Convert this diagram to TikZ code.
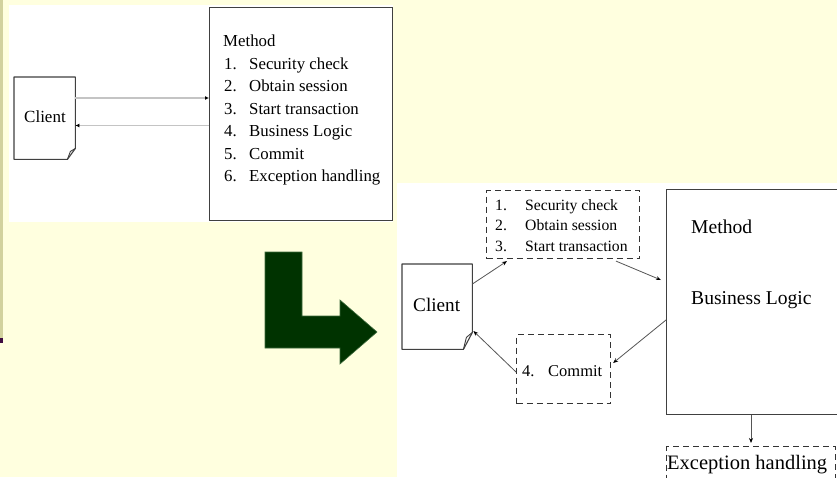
\documentclass[tikz,border=0pt]{standalone}
\usepackage{fontspec}
\setmainfont{Liberation Serif}
\usetikzlibrary{calc,arrows.meta}
\definecolor{slidebg}{HTML}{FFFFDF}
\definecolor{edgestrip}{HTML}{D2D29E}
\definecolor{edgemark}{HTML}{3E0C40}
\definecolor{bigarrow}{HTML}{003300}
\definecolor{bigarrowedge}{HTML}{3D6B3D}
\definecolor{boxline}{HTML}{404040}
\definecolor{lightwire}{HTML}{C4C4C4}
\definecolor{darkwire}{HTML}{555555}
\tikzset{
  panel/.style={fill=white, draw=none},
  boxframe/.style={draw=boxline, line width=1.1pt, inner sep=0pt, anchor=north west},
  dashframe/.style={draw=black!80, line width=1.1pt, dash pattern=on 6pt off 4pt, inner sep=0pt, anchor=north west},
  holder/.style={draw=none, inner sep=0pt, anchor=north west},
  doc/.style={draw=boxline, line width=1.1pt, line join=round, fill=white},
  txt/.style={inner sep=0pt, anchor=base west, text=black},
  toparrow/.style={draw=lightwire, line width=1.6pt, -{Latex[length=4pt,width=4pt,black]}},
  flow/.style={draw=darkwire, line width=0.8pt, -{Stealth[length=5pt,width=4pt,black]}},
}
\begin{document}
\begin{tikzpicture}[x=1pt,y=-1pt]
  % page and panels
  \fill[slidebg] (0,0) rectangle (837,477);
  \useasboundingbox (0,0) rectangle (837,477);
  \clip (0,0) rectangle (837,477);
  \fill[edgestrip] (0,0) rectangle (2.5,338);
  \fill[edgemark] (0,338) rectangle (2.5,343);
  \fill[panel] (9,5) rectangle (393,222);
  \fill[panel] (397,183) rectangle (837,477);

  % ---------- before: everything inside one method ----------
  \node[holder, minimum width=61pt, minimum height=82pt] (client1) at (14,77) {};
  \draw[doc] (client1.north west) -- (client1.north east)
    -- ($(client1.south east)+(0,-11)$) -- ($(client1.south east)+(-8,0)$)
    -- (client1.south west) -- cycle;
  \draw[boxline, line width=0.9pt, line join=round]
    ($(client1.south east)+(0,-11)$) -- ($(client1.south east)+(-5,-8)$) -- ($(client1.south east)+(-8,0)$);
  \node[txt, font=\fontsize{17}{20}\selectfont] (c1txt) at (24,122) {Client};

  \node[boxframe, minimum width=183pt, minimum height=213pt] (meth1) at (209,7) {};
  \node[txt, font=\fontsize{16.8}{20}\selectfont] (m1head) at (223,46.7) {Method};
  \foreach \i/\t in {1/Security check,2/Obtain session,3/Start transaction,4/Business Logic,5/Commit,6/Exception handling}{
    \node[txt, font=\fontsize{16.8}{20}\selectfont] (num\i) at (224,46.7+22.5*\i) {\i.};
    \node[txt, font=\fontsize{16.8}{20}\selectfont] (step\i) at (249,46.7+22.5*\i) {\t};
  }

  \draw[toparrow] ($(client1.north east)+(0,21)$) coordinate (t1) -- (t1 -| meth1.west);
  \draw[toparrow] ($(meth1.north west)+(0,118.5)$) coordinate (t2) -- (t2 -| client1.east);

  % ---------- transition arrow ----------
  \filldraw[fill=bigarrow, draw=bigarrowedge, line width=0.6pt]
    (265,252) -- (302,252) -- (302,316) -- (340,316) -- (340,300) -- (377,332)
    -- (340,364) -- (340,348) -- (265,348) -- cycle;

  % ---------- after: concerns split out ----------
  \node[holder, minimum width=70pt, minimum height=85pt] (client2) at (402,264) {};
  \draw[doc] (client2.north west) -- (client2.north east)
    -- ($(client2.south east)+(0,-17)$) -- ($(client2.south east)+(-9,0)$)
    -- (client2.south west) -- cycle;
  \draw[boxline, line width=0.9pt, line join=round]
    ($(client2.south east)+(0,-17)$) -- ($(client2.south east)+(-6,-12)$) -- ($(client2.south east)+(-9,0)$);
  \node[txt, font=\fontsize{19.2}{22}\selectfont] (c2txt) at (413,311) {Client};

  \node[dashframe, minimum width=153pt, minimum height=68pt] (ops) at (486,190) {};
  \foreach \i/\t/\y in {1/Security check/210,2/Obtain session/230.5,3/Start transaction/251}{
    \node[txt, font=\fontsize{15.7}{18}\selectfont] (pnum\i) at (495,\y) {\i.};
    \node[txt, font=\fontsize{15.7}{18}\selectfont] (pre\i) at (525,\y) {\t};
  }

  \node[boxframe, minimum width=220pt, minimum height=225pt] (meth2) at (666,189) {};
  \node[txt, font=\fontsize{19.6}{22}\selectfont] (m2head) at (691,233) {Method};
  \node[txt, font=\fontsize{19.6}{22}\selectfont] (logic) at (691,304) {Business Logic};

  \node[dashframe, minimum width=94pt, minimum height=69pt] (commit) at (516,334) {};
  \node[txt, font=\fontsize{16.5}{19}\selectfont] (cnum) at (522,376) {4.};
  \node[txt, font=\fontsize{16.5}{19}\selectfont] (ctxt) at (548,376) {Commit};

  \node[dashframe, minimum width=169pt, minimum height=44pt] (exc) at (666,446) {};
  \node[txt, font=\fontsize{20.5}{23}\selectfont] (etxt) at (667,469) {Exception handling};

  \draw[flow] ($(client2.north east)+(0,20)$) -- ($(ops.south west)+(21,2)$);
  \draw[flow] ($(ops.south west)+(130,2)$) -- ($(meth2.north west)+(-5,91)$);
  \draw[flow] ($(meth2.north west)+(0,131)$) -- ($(commit.north east)+(2,29)$);
  \draw[flow] ($(commit.north west)+(0,38)$) -- ($(client2.north east)+(1,67)$);
  \draw[flow] ($(meth2.south west)+(85,0)$) -- ($(exc.north west)+(85,-3)$);
\end{tikzpicture}
\end{document}
